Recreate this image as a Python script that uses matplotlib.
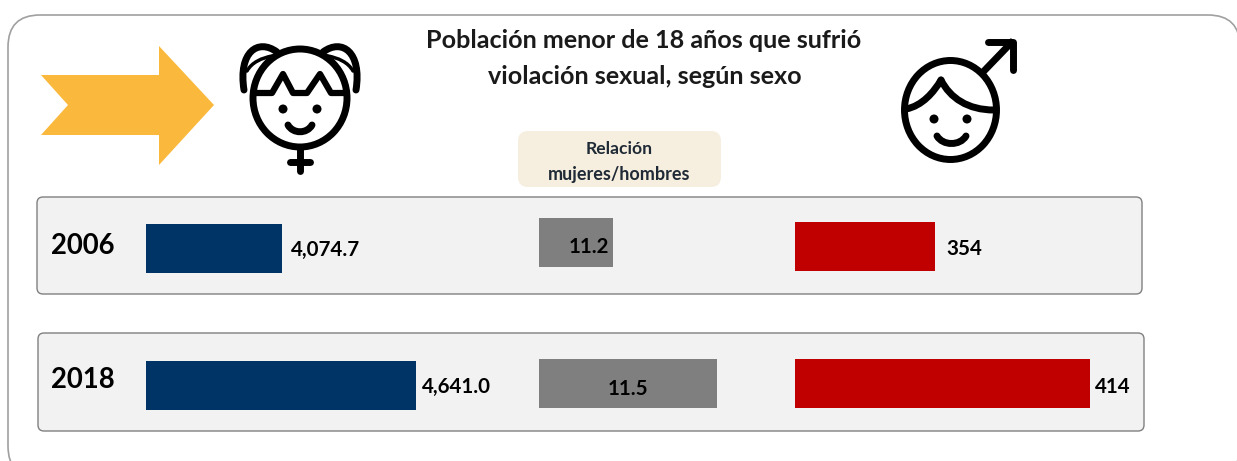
import matplotlib
matplotlib.use('Agg')
import matplotlib.pyplot as plt
from matplotlib.patches import FancyBboxPatch, Polygon, Ellipse, Circle, PathPatch
from matplotlib.path import Path

# Donnees
years = ['2006', '2018']
mujeres = [4074.7, 4641.0]
relacion = [11.2, 11.5]
hombres = [354, 414]

W, H = 1237, 461
plt.rcParams['font.family'] = ['Lato', 'DejaVu Sans']
fig = plt.figure(figsize=(W / 100, H / 100), dpi=100, facecolor='white')


def px_axes(z):
    ax = fig.add_axes([0, 0, 1, 1], zorder=z)
    ax.set_xlim(0, W)
    ax.set_ylim(H, 0)
    ax.axis('off')
    return ax


def rbox(ax, x0, y0, x1, y1, r, fc, ec, lw=1.0):
    ax.add_patch(FancyBboxPatch((x0 + r, y0 + r), x1 - x0 - 2 * r, y1 - y0 - 2 * r,
                                boxstyle=f'round,pad={r},rounding_size={r}',
                                fc=fc, ec=ec, lw=lw, clip_on=True))


def curve(ax, pts, lw=5):
    # pts: point de depart puis triplets de points de Bezier
    codes = [Path.MOVETO] + [Path.CURVE4] * (len(pts) - 1)
    ax.add_patch(PathPatch(Path(pts, codes), fc='none', ec='black', lw=lw, capstyle='round', joinstyle='round'))


bg = px_axes(0)
fg = px_axes(5)

# Cadres
rbox(bg, 8, 15, 1240, 478, 32, 'white', '#a0a0a0', 1.2)
rbox(bg, 37, 197, 1142, 294, 6, '#f2f2f2', '#808080')
rbox(bg, 38, 333, 1144, 431, 6, '#f2f2f2', '#808080')
rbox(bg, 518, 131, 721, 187, 10, '#f6efdf', 'none', 0)

# Fleche
bg.add_patch(Polygon([(41, 75), (159, 75), (159, 46), (214, 105), (159, 165), (159, 135), (41, 135), (68, 105)],
                     fc='#fab93c', ec='none'))

# Icone fille
bg.add_patch(Ellipse((300, 98), 94, 98, fc='none', ec='black', lw=5))
bg.plot([300, 300], [148, 171], color='black', lw=5, solid_capstyle='round')
bg.plot([290, 310], [162, 162], color='black', lw=5, solid_capstyle='round')
bg.plot([256, 272, 283, 293, 307, 320, 331, 345], [93, 93, 74, 93, 93, 74, 93, 93],
        color='black', lw=4.5, solid_joinstyle='round')
bg.add_patch(Circle((283, 109), 4.5, fc='black'))
bg.add_patch(Circle((317, 109), 4.5, fc='black'))
curve(bg, [(288, 125), (293, 134), (307, 134), (312, 125)])
curve(bg, [(277, 52), (258, 38), (238, 52), (244, 90)])
curve(bg, [(323, 52), (342, 38), (362, 52), (356, 90)])
curve(bg, [(247, 71), (252, 62), (262, 58), (272, 56)], 2.5)
curve(bg, [(353, 71), (348, 62), (338, 58), (328, 56)], 2.5)

# Icone garcon
bg.add_patch(Ellipse((950.5, 110), 92, 99, fc='none', ec='black', lw=5))
curve(bg, [(906, 109), (922, 106), (934, 92), (941, 80)])
curve(bg, [(941, 80), (950, 98), (968, 110), (994, 110)])
bg.add_patch(Circle((934, 119), 4.5, fc='black'))
bg.add_patch(Circle((967, 119), 4.5, fc='black'))
curve(bg, [(937, 136), (943, 146), (960, 146), (966, 136)])
bg.plot([984, 1011], [71, 43], color='black', lw=5)
bg.plot([988, 1013, 1013], [42, 42, 70], color='black', lw=5,
        solid_capstyle='round', solid_joinstyle='round')

# Barres: chaque colonne a sa propre echelle tronquee
row_tops = {'m': [224, 361], 'r': [218, 359], 'h': [222, 359]}
columns = [
    (mujeres, 'm', 146, 280, 3500, 4683, '#003366'),
    (relacion, 'r', 539, 190, 10.986, 11.534, '#7f7f7f'),
    (hombres, 'h', 795, 310, 300, 420, '#c00000'),
]
for values, key, x0, w, lo, hi, color in columns:
    ax = fig.add_axes([x0 / W, 0, w / W, 1], zorder=1)
    ax.set_xlim(lo, hi)
    ax.set_ylim(H, 0)
    ax.axis('off')
    ax.barh(row_tops[key], values, height=49, align='edge', color=color)

# Textes
fg.text(644, 40, 'Población menor de 18 años que sufrió', ha='center', va='center', fontsize=18.1, fontweight='bold', color='#1a1a1a')
fg.text(645, 77, 'violación sexual, según sexo', ha='center', va='center', fontsize=18.1, fontweight='bold', color='#1a1a1a')
fg.text(619, 149, 'Relación', ha='center', va='center', fontsize=12.6, fontweight='bold', color='#1f2a36')
fg.text(619, 174, 'mujeres/hombres', ha='center', va='center', fontsize=13, fontweight='bold', color='#1f2a36')

fg.text(83, 246, years[0], ha='center', va='center', fontsize=19.8, fontweight='bold', color='black')
fg.text(83, 380, years[1], ha='center', va='center', fontsize=19.8, fontweight='bold', color='black')

fg.text(291, 250, f'{mujeres[0]:,.1f}', ha='left', va='center', fontsize=14.8, fontweight='bold', color='black')
fg.text(422, 387, f'{mujeres[1]:,.1f}', ha='left', va='center', fontsize=14.8, fontweight='bold', color='black')
fg.text(589, 247, f'{relacion[0]:.1f}', ha='center', va='center', fontsize=14.8, fontweight='bold', color='black')
fg.text(628, 389, f'{relacion[1]:.1f}', ha='center', va='center', fontsize=14.8, fontweight='bold', color='black')
fg.text(946, 249, str(hombres[0]), ha='left', va='center', fontsize=14.8, fontweight='bold', color='black')
fg.text(1095, 387, str(hombres[1]), ha='left', va='center', fontsize=14.8, fontweight='bold', color='black')

fig.savefig('out.png', dpi=100)
